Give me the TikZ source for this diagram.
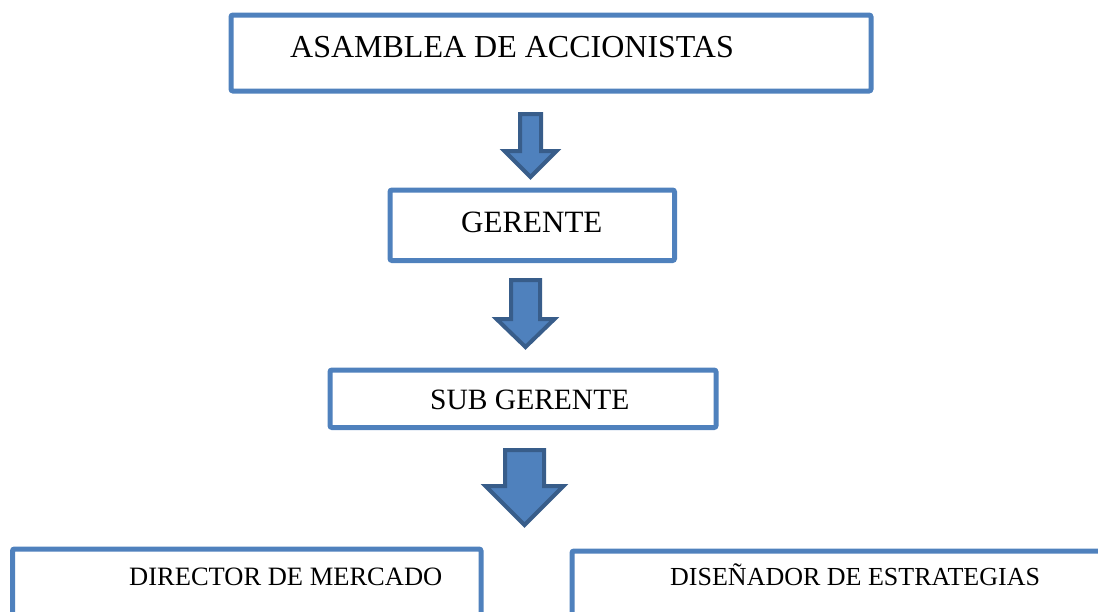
\documentclass[tikz,border=0pt]{standalone}
\usepackage{fontspec}
\setmainfont{Liberation Serif}
\usepackage{xcolor}
\usetikzlibrary{calc}

\definecolor{officeblue}{HTML}{4F81BD}
\definecolor{officedark}{HTML}{385D8A}

\tikzset{
  box/.style={draw=officeblue, line width=5pt, rounded corners=2pt, inner sep=0pt, fill=white},
  lbl/.style={inner sep=0pt, anchor=base west, text=black},
  blockarrow/.style={fill=officeblue, draw=officedark, line width=4pt, line join=miter}
}

\begin{document}
\begin{tikzpicture}[x=1pt,y=-1pt]
      \useasboundingbox (0,0) rectangle (1098,611);
      \clip (0,0) rectangle (1098,611);

      % boxes
      \node[box, minimum width=640pt, minimum height=76pt] (asamblea) at (551,53) {};
      \node[box, minimum width=284.5pt, minimum height=70.5pt] (gerente) at (532.25,225.25) {};
      \node[box, minimum width=386pt, minimum height=57.5pt] (subgerente) at (523,398.75) {};
      \node[box, minimum width=468.5pt, minimum height=101pt] (director) at (246.75,599.5) {};
      \node[box, minimum width=548pt, minimum height=99pt] (disenador) at (846,600.5) {};

      % texts
      \node[lbl, font=\fontsize{32}{38}\selectfont] (asambleaT) at (290,57) {ASAMBLEA DE ACCIONISTAS};
      \node[lbl, font=\fontsize{31}{37}\selectfont] (gerenteT) at (461,232) {GERENTE};
      \node[lbl, font=\fontsize{29.5}{35}\selectfont] (subgerenteT) at (430,409) {SUB GERENTE};
      \node[lbl, font=\fontsize{26.5}{32}\selectfont] (directorT) at (129,585) {DIRECTOR DE MERCADO};
      \node[lbl, font=\fontsize{26}{31}\selectfont] (disenadorT) at (670,585) {DISEÑADOR DE ESTRATEGIAS};

      % block arrows: centre x / top / half shaft / half head / head start / tip
      \foreach \cx/\top/\sw/\hw/\hs/\tip in {530.5/114/10.5/26/151/177,
                                             525.5/280/14.5/29/319/347,
                                             524.5/450/19.5/39/486/525}
        \draw[blockarrow] (\cx-\sw,\top) -- (\cx+\sw,\top) -- (\cx+\sw,\hs)
          -- (\cx+\hw,\hs) -- (\cx,\tip) -- (\cx-\hw,\hs) -- (\cx-\sw,\hs) -- cycle;
    \end{tikzpicture}
\end{document}
